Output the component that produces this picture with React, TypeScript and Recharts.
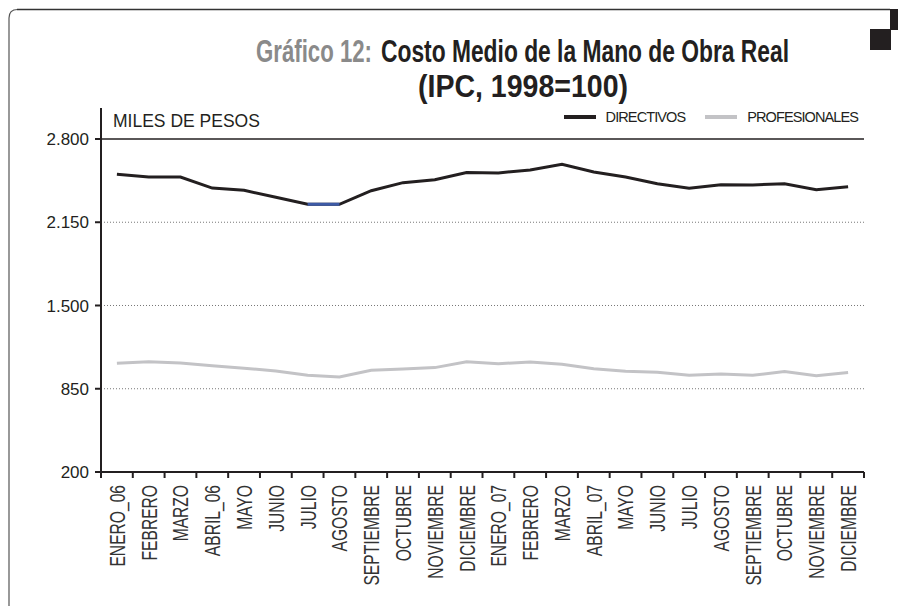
import React from 'react';
import { LineChart, Line, XAxis, YAxis, CartesianGrid, ReferenceLine, Legend } from 'recharts';

const months = [
  'ENERO_06', 'FEBRERO', 'MARZO', 'ABRIL_06', 'MAYO', 'JUNIO', 'JULIO', 'AGOSTO',
  'SEPTIEMBRE', 'OCTUBRE', 'NOVIEMBRE', 'DICIEMBRE',
  'ENERO_07', 'FEBRERO', 'MARZO', 'ABRIL_07', 'MAYO', 'JUNIO', 'JULIO', 'AGOSTO',
  'SEPTIEMBRE', 'OCTUBRE', 'NOVIEMBRE', 'DICIEMBRE',
];

const directivos = [
  2524, 2503, 2503, 2417, 2399, 2345, 2290, 2290, 2396, 2459, 2482, 2538,
  2535, 2558, 2602, 2542, 2503, 2451, 2415, 2443, 2441, 2451, 2404, 2428,
];

const profesionales = [
  1049, 1061, 1051, 1030, 1010, 989, 955, 942, 994, 1004, 1015, 1060,
  1046, 1059, 1041, 1007, 986, 978, 955, 965, 955, 984, 952, 976,
];

// tramo resaltado en azul (julio-agosto 2006)
const resaltado: (number | null)[] = [
  null, null, null, null, null, null, 2290, 2290, null, null, null, null,
  null, null, null, null, null, null, null, null, null, null, null, null,
];

const yTicks = [200, 850, 1500, 2150, 2800];
const gridValues = [850, 1500, 2150];

const data = months.map((m, i) => ({
  idx: i,
  mes: m,
  directivos: directivos[i],
  profesionales: profesionales[i],
  resaltado: resaltado[i],
}));

// marcas en los bordes de cada mes y etiquetas en el centro
const xTicks: number[] = [];
for (let i = 0; i <= months.length * 2; i++) xTicks.push(i / 2 - 0.5);

const INK = '#231f20';
const FONT = "'Liberation Sans', Arial, sans-serif";

const formatMiles = (v: number) =>
  v >= 1000 ? `${Math.floor(v / 1000)}.${String(v % 1000).padStart(3, '0')}` : String(v);

const MonthTick = (props: any) => {
  const { x, y, payload } = props;
  const v = payload.value;
  if (!Number.isInteger(v)) {
    return <line x1={x} y1={y} x2={x} y2={y + 6} stroke={INK} strokeWidth={2} />;
  }
  return (
    <text
      transform={`translate(${x},${y + 13}) rotate(-90) scale(0.71,1)`}
      textAnchor="end"
      dy="0.36em"
      fontSize={22}
      fill="#333"
      fontFamily={FONT}
    >
      {months[v]}
    </text>
  );
};

const renderLegend = (props: any) => {
  const items = (props.payload || []).filter((p: any) => p.type !== 'none');
  return (
    <div style={{ display: 'flex', alignItems: 'center', fontFamily: FONT, fontSize: 14.5, letterSpacing: -0.9, color: INK, whiteSpace: 'nowrap' }}>
      {items.map((p: any, i: number) => (
        <div key={p.value} style={{ display: 'flex', alignItems: 'center', marginLeft: i === 0 ? 0 : 20 }}>
          <span style={{ display: 'inline-block', width: 32, height: 4, background: p.color, marginRight: 10 }} />
          <span>{p.value}</span>
        </div>
      ))}
    </div>
  );
};

// texto de título comprimido horizontalmente (fuente condensada)
const TitleText = ({ x, y, width, sx, fill, children }: any) => (
  <text
    transform={`translate(${x},${y}) scale(${sx},1)`}
    textLength={width / sx}
    lengthAdjust="spacingAndGlyphs"
    fontSize={31}
    fontWeight="bold"
    fontFamily={FONT}
    fill={fill}
  >
    {children}
  </text>
);

export default function App() {
  return (
    <div style={{ position: 'absolute', left: 0, top: 0, width: 898, height: 610, background: '#fff' }}>
      <svg width={898} height={610} style={{ position: 'absolute', left: 0, top: 0 }}>
        <path d="M9,606 L9,18 Q9,9.5 17.5,9.5 L890,9.5" fill="none" stroke="#555" strokeWidth={1.2} />
        <line x1={17} y1={9.5} x2={890} y2={9.5} stroke="#333" strokeWidth={1.6} />
        <rect x={890} y={9} width={8} height={21} fill={INK} />
        <rect x={870} y={29} width={21} height={21} fill={INK} />
        <TitleText x={256} y={62} width={116} sx={0.72} fill="#8a8a8a">Gráfico 12:</TitleText>
        <TitleText x={381} y={62} width={408} sx={0.74} fill={INK}>Costo Medio de la Mano de Obra Real</TitleText>
        <TitleText x={418} y={97} width={210} sx={0.92} fill={INK}>(IPC, 1998=100)</TitleText>
        <text x={113} y={127} fontSize={17.5} fontFamily={FONT} fill={INK}>
          MILES DE PESOS
        </text>
      </svg>
      <div style={{ position: 'absolute', left: 0, top: 0 }}>
        <LineChart width={898} height={610} data={data} margin={{ top: 108, right: 34, left: 0, bottom: 0 }}>
          <CartesianGrid vertical={false} horizontalValues={gridValues} stroke="#777" strokeDasharray="1 2" />
          <XAxis
            dataKey="idx"
            type="number"
            domain={[-0.5, months.length - 0.5]}
            ticks={xTicks}
            interval={0}
            height={138}
            tickLine={false}
            tickSize={0}
            tickMargin={0}
            axisLine={{ stroke: INK, strokeWidth: 2 }}
            tick={<MonthTick />}
          />
          <YAxis
            width={101}
            domain={[200, 3042]}
            ticks={yTicks}
            interval={0}
            tickFormatter={formatMiles}
            tickSize={6}
            tickMargin={6}
            axisLine={{ stroke: INK, strokeWidth: 2 }}
            tickLine={{ stroke: INK, strokeWidth: 2 }}
            tick={{ fill: INK, fontSize: 17, fontFamily: FONT }}
          />
          <ReferenceLine y={2800} stroke={INK} strokeWidth={1.5} />
          <Legend
            content={renderLegend}
            layout="horizontal"
            verticalAlign="middle"
            align="center"
            wrapperStyle={{ top: 109, right: 40, left: 'auto', width: 'auto' }}
          />
          <Line
            type="linear"
            dataKey="directivos"
            name="DIRECTIVOS"
            stroke={INK}
            strokeWidth={3}
            dot={false}
            activeDot={false}
            isAnimationActive={false}
          />
          <Line
            type="linear"
            dataKey="profesionales"
            name="PROFESIONALES"
            stroke="#c3c3c6"
            strokeWidth={3}
            dot={false}
            activeDot={false}
            isAnimationActive={false}
          />
          <Line
            type="linear"
            dataKey="resaltado"
            stroke="#3d5aa6"
            strokeWidth={3}
            dot={false}
            activeDot={false}
            legendType="none"
            isAnimationActive={false}
          />
        </LineChart>
      </div>
    </div>
  );
}
